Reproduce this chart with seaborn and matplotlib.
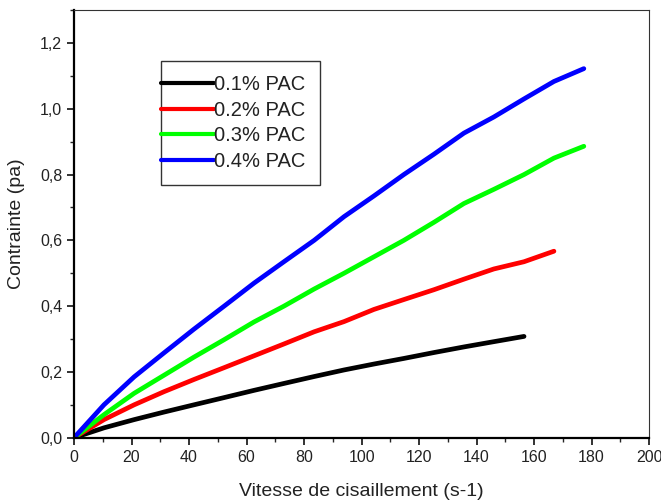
import matplotlib
matplotlib.use("Agg")
import matplotlib.pyplot as plt
import seaborn as sns
import pandas as pd
from matplotlib.ticker import MultipleLocator, FuncFormatter
from matplotlib.legend_handler import HandlerLine2D

# shear rate (s-1) and stress (pa)
shear_rate = [0, 10.4, 20.9, 31.3, 41.7, 52.2, 62.6, 73.0, 83.5, 93.9,
              104.3, 114.7, 125.2, 135.6, 146.0, 156.5, 166.9, 177.3]

stress_01 = [0, 0.030, 0.055, 0.078, 0.100, 0.122, 0.144, 0.165, 0.186, 0.206,
             0.224, 0.241, 0.259, 0.276, 0.292, 0.308]
stress_02 = [0, 0.055, 0.100, 0.140, 0.177, 0.213, 0.249, 0.285, 0.322, 0.353,
             0.390, 0.420, 0.450, 0.482, 0.513, 0.535, 0.567]
stress_03 = [0, 0.070, 0.135, 0.190, 0.245, 0.298, 0.352, 0.400, 0.452, 0.500,
             0.550, 0.600, 0.655, 0.712, 0.755, 0.800, 0.850, 0.886]
stress_04 = [0, 0.100, 0.185, 0.258, 0.330, 0.400, 0.470, 0.535, 0.600, 0.672,
             0.735, 0.800, 0.862, 0.926, 0.975, 1.030, 1.083, 1.122]

labels = ["0.1% PAC", "0.2% PAC", "0.3% PAC", "0.4% PAC"]
colors = ["#000000", "#ff0000", "#00ff00", "#0000ff"]
series = [stress_01, stress_02, stress_03, stress_04]

rows = []
for lab, ys in zip(labels, series):
    for x, y in zip(shear_rate, ys):
        rows.append({"rate": x, "stress": y, "conc": lab})
df = pd.DataFrame(rows)

LEG_FS = 14.5
LEG_PAD = 0.7


class EdgeLine(HandlerLine2D):
    """legend line that runs from the frame edge up to the label"""
    def get_xdata(self, legend, xdescent, ydescent, width, height, fontsize):
        ext = LEG_PAD * fontsize
        return [-xdescent - ext, -xdescent + width], [-xdescent - ext, -xdescent + width]


sns.set_style("ticks")
plt.rcParams["font.family"] = ["Liberation Sans", "DejaVu Sans"]

fig = plt.figure(figsize=(6.61, 5.04), dpi=100)
ax = fig.add_axes([0.112, 0.1315, 0.870, 0.8485])

sns.lineplot(data=df, x="rate", y="stress", hue="conc", palette=colors,
             hue_order=labels, linewidth=3.4, ax=ax, legend=False,
             solid_capstyle="round")

ax.set_xlim(0, 200)
ax.set_ylim(0, 1.3)
ax.xaxis.set_major_locator(MultipleLocator(20))
ax.xaxis.set_minor_locator(MultipleLocator(10))
ax.yaxis.set_major_locator(MultipleLocator(0.2))
ax.yaxis.set_minor_locator(MultipleLocator(0.1))
ax.yaxis.set_major_formatter(FuncFormatter(lambda v, p: f"{v:.1f}".replace(".", ",")))

ax.tick_params(which="major", direction="out", length=5, width=1.3, labelsize=11.5, colors="#222222")
ax.tick_params(which="minor", direction="out", length=3, width=1.0)

for side in ["left", "bottom"]:
    ax.spines[side].set_linewidth(1.6)
    ax.spines[side].set_color("black")
for side in ["top", "right"]:
    ax.spines[side].set_visible(True)
    ax.spines[side].set_linewidth(0.8)
    ax.spines[side].set_color("#333333")

ax.set_xlabel("Vitesse de cisaillement (s-1)", fontsize=14, color="#222222", labelpad=13)
ax.set_ylabel("Contrainte (pa)", fontsize=14, color="#222222", labelpad=11)

handles = [plt.Line2D([], [], color=c, linewidth=3) for c in colors]
leg = ax.legend(handles, labels, loc="upper left", bbox_to_anchor=(0.151, 0.881),
                borderaxespad=0, fontsize=LEG_FS, handlelength=1.95, handletextpad=0,
                labelspacing=0.33, borderpad=LEG_PAD, frameon=True, fancybox=False,
                handler_map={plt.Line2D: EdgeLine()})
leg.get_frame().set_edgecolor("black")
leg.get_frame().set_linewidth(1.0)
for t in leg.get_texts():
    t.set_color("#222222")

fig.savefig("out.png", dpi=100)
